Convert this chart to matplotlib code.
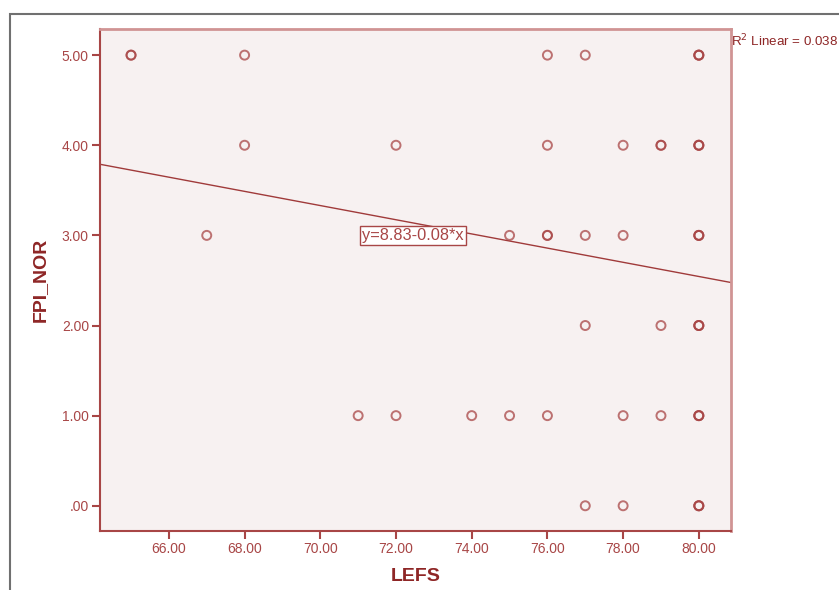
import numpy as np
import matplotlib
matplotlib.use("Agg")
import matplotlib.pyplot as plt
from matplotlib.patches import Rectangle

# LEFS vs FPI_NOR scatter (SPSS style), n = how many cases sit on the same spot
lefs = [65, 68, 76, 77, 80,
        68, 72, 76, 78, 79, 80,
        67, 75, 76, 77, 78, 80,
        77, 79, 80,
        71, 72, 74, 75, 76, 78, 79, 80,
        77, 78, 80]
fpi = [5, 5, 5, 5, 5,
       4, 4, 4, 4, 4, 4,
       3, 3, 3, 3, 3, 3,
       2, 2, 2,
       1, 1, 1, 1, 1, 1, 1, 1,
       0, 0, 0]
n_cases = [2, 1, 1, 1, 3,
           1, 1, 1, 1, 2, 3,
           1, 1, 2, 1, 1, 3,
           1, 1, 3,
           1, 1, 1, 1, 1, 1, 1, 3,
           1, 1, 3]

fit_intercept = 8.84
fit_slope = -0.0787
fit_label = "y=8.83-0.08*x"
r2_label = "R$^2$ Linear = 0.038"

x_ticks = [66, 68, 70, 72, 74, 76, 78, 80]
y_ticks = [0, 1, 2, 3, 4, 5]

DARK = "#8E2626"
MID = "#A84646"
LIGHT = "#D09494"

plt.rcParams["font.family"] = ["Liberation Sans", "DejaVu Sans"]

fig = plt.figure(figsize=(8.39, 5.90), dpi=100)
# grey outer frame of the SPSS output window
fig.patches.append(Rectangle((10 / 839, -0.1), 1.2, 1.1 - 14 / 590,
                             transform=fig.transFigure, fill=False,
                             edgecolor="#707070", linewidth=1.5))

ax = fig.add_axes([100 / 839, 59 / 590, 631 / 839, 502 / 590])
ax.set_facecolor("#F7F1F1")

xs = np.repeat(lefs, n_cases)
ys = np.repeat(fpi, n_cases)
ax.scatter(xs, ys, s=42, facecolors="none", edgecolors=MID,
           linewidths=1.4, alpha=0.75, zorder=3)

ax.set_xlim(64.18, 80.85)
ax.set_ylim(-0.28, 5.29)

xl = np.array(ax.get_xlim())
ax.plot(xl, fit_intercept + fit_slope * xl, color="#A03A3A", linewidth=1.0, zorder=2)

ax.text(72.45, 3.0, fit_label, ha="center", va="center", fontsize=11.8, color=MID,
        bbox=dict(boxstyle="square,pad=0.12", facecolor="white",
                  edgecolor=MID, linewidth=1.0), zorder=4)

# the reference cuts this off at the right edge; kept just inside here
ax.text(1.0, 0.976, r2_label, transform=ax.transAxes, ha="left", va="center",
        fontsize=9.6, color=DARK, clip_on=False)

ax.set_xticks(x_ticks)
ax.set_xticklabels([f"{v:.2f}" for v in x_ticks])
ax.set_yticks(y_ticks)
ax.set_yticklabels([f"{v:.2f}".lstrip("0") if v == 0 else f"{v:.2f}" for v in y_ticks])
ax.tick_params(axis="both", direction="out", length=6, width=1.5, color=MID,
               labelcolor=MID, labelsize=10, pad=2)

for side in ["left", "bottom"]:
    ax.spines[side].set_color(MID)
    ax.spines[side].set_linewidth(1.5)
for side in ["top", "right"]:
    ax.spines[side].set_color(LIGHT)
    ax.spines[side].set_linewidth(2)

ax.set_xlabel("LEFS", fontsize=14, fontweight="bold", color=DARK)
ax.xaxis.set_label_coords(0.5, -0.074)
ax.set_ylabel("FPI_NOR", fontsize=14, fontweight="bold", color=DARK)
ax.yaxis.set_label_coords(-0.081, 0.5)

fig.savefig("out.png", dpi=100)
